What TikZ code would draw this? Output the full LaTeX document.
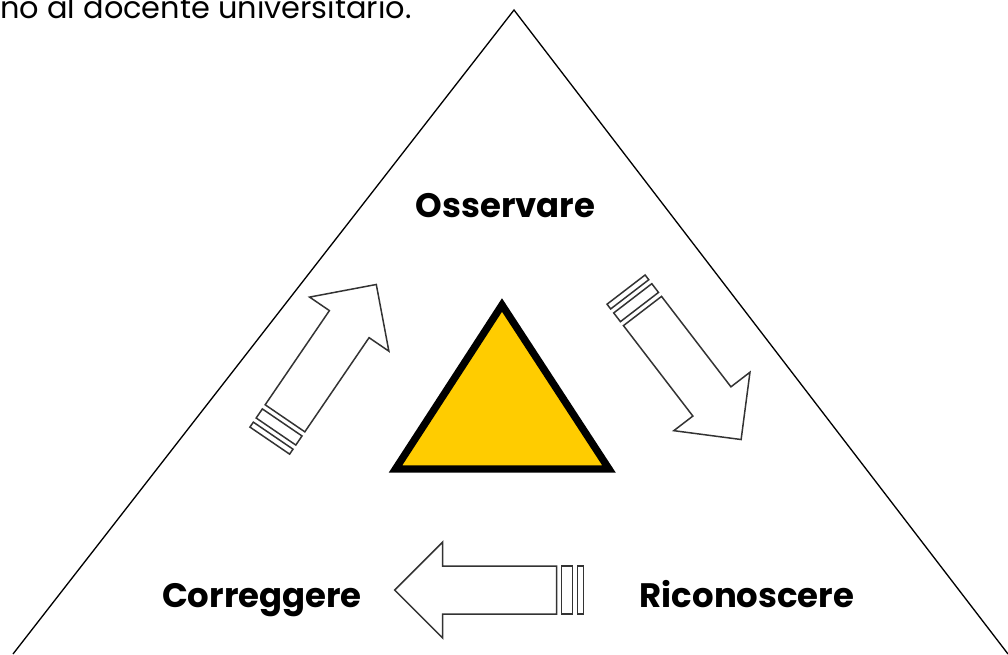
\documentclass[tikz,border=0pt]{standalone}
\usepackage{fontspec}
\setmainfont{Poppins}
\usetikzlibrary{positioning}
\definecolor{triyellow}{HTML}{FFCC00}

\begin{document}
\begin{tikzpicture}[
  x=0.02cm, y=-0.02cm,
  stagelabel/.style={font=\bfseries\fontsize{19.3}{23}\selectfont, inner sep=0pt, anchor=base},
  blockarrow/.style={draw=black!80, line width=0.85pt, line join=miter, fill=white},
  stripearrow/.pic={
    \path[blockarrow] (0,-24) -- (114,-24) -- (114,-48) -- (162,0) -- (114,48) -- (114,24) -- (0,24) -- cycle;
    \path[blockarrow] (-5,-24) rectangle (-16,24);
    \path[blockarrow] (-21,-24) rectangle (-27,24);
  }
]
\useasboundingbox (0,0) rectangle (1008,654);
\clip (0,0) rectangle (1008,654);

% outer triangle
\coordinate (apex) at (514,10);
\coordinate (leftfoot) at (13,654);
\coordinate (rightfoot) at (1008,654);
\draw[line width=0.75pt] (leftfoot) -- (apex) -- (rightfoot);

% text cut from the page above
\node[font=\fontsize{17.3}{20}\selectfont, inner sep=0pt, anchor=base west] (intro) at (0,18.3) {no al docente universitario.};

% inner triangle
\coordinate (top) at (502,305);
\coordinate (bl) at (395.5,469);
\coordinate (br) at (609,469);
\draw[line width=4.2pt, fill=triyellow, line join=miter] (top) -- (bl) -- (br) -- cycle;

% stages
\node[stagelabel] (osservare) at (505.5,217.3) {Osservare};
\node[stagelabel] (correggere) at (262,607) {Correggere};
\node[stagelabel] (riconoscere) at (747,607.7) {Riconoscere};

% arrows of the cycle
\pic[rotate=-52.5] at (642.5,311) {stripearrow};
\pic[rotate=180] at (556.7,590) {stripearrow};
\pic[rotate=55.7] at (285,418.3) {stripearrow};

\end{tikzpicture}
\end{document}
